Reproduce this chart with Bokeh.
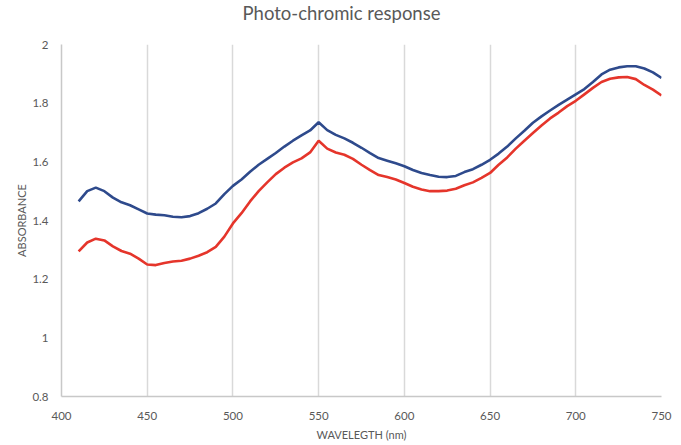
from bokeh.plotting import figure
from bokeh.models import FixedTicker, Range1d, Title
from bokeh.embed import file_html
from bokeh.resources import INLINE

wavelength = [410, 415, 420, 425, 430, 435, 440, 445, 450, 455, 460, 465, 470, 475,
              480, 485, 490, 495, 500, 505, 510, 515, 520, 525, 530, 535, 540, 545,
              550, 555, 560, 565, 570, 575, 580, 585, 590, 595, 600, 605, 610, 615,
              620, 625, 630, 635, 640, 645, 650, 655, 660, 665, 670, 675, 680, 685,
              690, 695, 700, 705, 710, 715, 720, 725, 730, 735, 740, 745, 750]

blue_series = [1.465, 1.500, 1.512, 1.500, 1.478, 1.462, 1.452, 1.438, 1.424, 1.420,
               1.418, 1.413, 1.411, 1.415, 1.425, 1.440, 1.458, 1.490, 1.518, 1.540,
               1.566, 1.590, 1.610, 1.630, 1.652, 1.672, 1.690, 1.707, 1.735, 1.708,
               1.692, 1.680, 1.665, 1.648, 1.630, 1.613, 1.604, 1.595, 1.585, 1.572,
               1.562, 1.555, 1.549, 1.548, 1.552, 1.565, 1.575, 1.590, 1.607, 1.628,
               1.652, 1.680, 1.706, 1.733, 1.755, 1.775, 1.794, 1.812, 1.830, 1.848,
               1.872, 1.898, 1.914, 1.922, 1.926, 1.926, 1.918, 1.905, 1.886]

red_series = [1.295, 1.325, 1.338, 1.332, 1.312, 1.296, 1.287, 1.270, 1.250, 1.248,
              1.255, 1.260, 1.263, 1.270, 1.280, 1.292, 1.310, 1.345, 1.390, 1.425,
              1.465, 1.500, 1.530, 1.558, 1.580, 1.598, 1.612, 1.632, 1.672, 1.645,
              1.632, 1.624, 1.610, 1.590, 1.572, 1.555, 1.548, 1.540, 1.528, 1.515,
              1.506, 1.500, 1.500, 1.502, 1.508, 1.520, 1.530, 1.545, 1.562, 1.590,
              1.615, 1.645, 1.672, 1.698, 1.724, 1.748, 1.768, 1.790, 1.808, 1.830,
              1.852, 1.872, 1.883, 1.888, 1.889, 1.882, 1.862, 1.846, 1.826]

x_ticks = [400, 450, 500, 550, 600, 650, 700, 750]
y_ticks = [0.8, 1.0, 1.2, 1.4, 1.6, 1.8, 2.0]
y_tick_labels = ["0.8", "1", "1.2", "1.4", "1.6", "1.8", "2"]

TITLE = "Photo-chromic response"
FONT = "Lato"
GREY = "#595959"

p = figure(width=681, height=445, output_backend="svg", toolbar_location=None,
           x_range=Range1d(400, 750), y_range=Range1d(0.8, 2.0),
           min_border_left=61, min_border_right=20, min_border_top=44,
           min_border_bottom=49)

# blank spacer panel between the frame and the title, then the title itself
p.add_layout(Title(text=" ", text_font_size="15px", standoff=0), "above")
p.add_layout(Title(text=TITLE, align="left", vertical_align="top",
                   text_font=FONT, text_font_size="18.5px",
                   text_font_style="normal", text_color=GREY,
                   standoff=0, offset=181), "above")

p.outline_line_color = None
p.background_fill_color = "white"
p.border_fill_color = "white"

p.line(wavelength, blue_series, line_color="#2E4A8C", line_width=2.6)
p.line(wavelength, red_series, line_color="#E5352B", line_width=2.6)

p.xaxis.ticker = FixedTicker(ticks=x_ticks)
p.yaxis.ticker = FixedTicker(ticks=y_ticks)
p.yaxis.major_label_overrides = {t: s for t, s in zip(y_ticks, y_tick_labels)}

for ax in (p.xaxis[0], p.yaxis[0]):
    ax.major_tick_line_color = None
    ax.minor_tick_line_color = None
    ax.axis_line_color = "#c8c8c8"
    ax.axis_line_width = 1.5
    ax.major_label_text_font = FONT
    ax.major_label_text_font_size = "11.5px"
    ax.major_label_text_color = GREY
    ax.axis_label_text_font = FONT
    ax.axis_label_text_font_size = "11px"
    ax.axis_label_text_font_style = "normal"
    ax.axis_label_text_color = GREY

p.xaxis.axis_label = "WAVELEGTH (nm)"
p.yaxis.axis_label = "ABSORBANCE"
p.xaxis.major_label_standoff = 9
p.yaxis.major_label_standoff = 7
p.xaxis.axis_label_standoff = 5
p.yaxis.axis_label_standoff = 1

p.xgrid.grid_line_color = "#d9d9d9"
p.xgrid.grid_line_width = 1.5
p.ygrid.grid_line_color = None

open("out.html", "w").write(file_html(p, INLINE))
